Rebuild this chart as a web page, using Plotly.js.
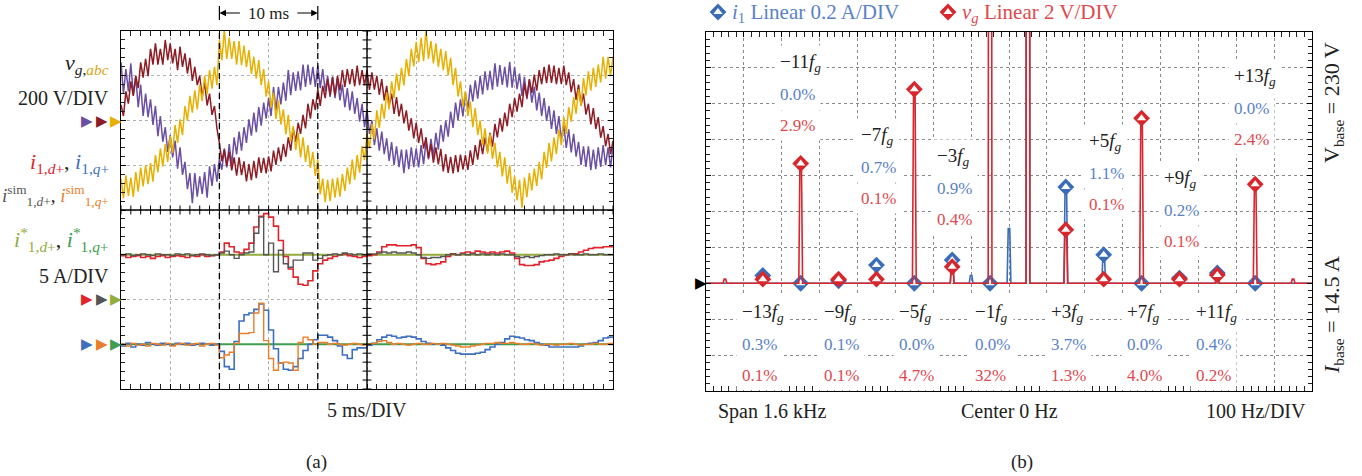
<!DOCTYPE html>
<html><head><meta charset="utf-8">
<script src="https://cdn.plot.ly/plotly-3.0.1.min.js"></script>
<style>html,body{margin:0;padding:0;background:#fff}#chart{width:1362px;height:476px}</style>
</head><body><div id="chart"></div>
<script>
// ================= Panel (a): oscilloscope capture =================
const dtV = 0.25;   // ms between voltage samples
const dtI = 0.5;    // ms between current samples
// grid voltages [V], 200 V/DIV
const vgA = [260,120,230,130, 255,115,195,60, 160,20,120,15, 95,-20,65,-70, 20,-95,-30,-140,
 -65,-165,-90,-215, -120,-243,-185,-307, -235,-370,-235,-340, -250,-328,-230,-345, -205,-292,-195,-273,
 -170,-220,-125,-210, -105,-200,-75,-152, -50,-135,-30,-100, 5,-68,35,-52, 60,-23,80,8,
 100,20,150,45, 150,72,170,88, 225,113,215,132, 220,135,250,150, 250,160,240,150,
 245,145,230,130, 200,105,195,100, 190,90,160,60, 145,45,130,30, 100,-5,75,-30,
 50,-60,0,-110, -35,-135,-50,-150, -80,-181,-97,-198, -115,-208,-130,-235, -130,-217,-120,-208,
 -125,-210,-110,-195, -95,-174,-82,-161, -55,-130,-20,-95, 0,-72,40,-33, 80,2,95,18,
 125,50,160,85, 180,98,200,117, 220,136,222,138, 255,151,248,159, 240,148,262,147,
 240,140,210,110, 195,95,180,80, 150,45,125,20, 100,-2,65,-38, 45,-60,20,-85,
 -20,-122,-40,-143, -60,-162,-95,-198, -115,-207,-115,-222, -130,-218,-120,-207, -110,-200,-120,-210, -115];
const vgB = [70,20,130,75, 175,110,200,145, 260,192,275,198, 320,250,345,250, 320,250,360,270,
 345,255,320,225, 330,240,300,210, 280,177,240,158, 200,107,170,67, 120,25,65,-35,
 -100,-182,-130,-203, -140,-223,-165,-247, -165,-244,-183,-272, -195,-267,-180,-258, -165,-234,-167,-236,
 -160,-227,-135,-198, -120,-183,-105,-162, -75,-135,-35,-95, -10,-60,25,-35, 75,8,95,47,
 140,65,155,100, 185,113,195,112, 200,135,225,150, 230,162,230,153, 245,158,225,157,
 225,137,215,138, 200,115,185,90, 155,65,120,30, 105,18,75,-13, 45,-45,10,-80,
 -10,-100,-35,-125, -75,-167,-105,-188, -120,-196,-127,-228, -150,-234,-162,-236, -155,-231,-152,-219,
 -155,-221,-133,-199, -110,-175,-85,-150, -75,-138,-55,-117, -15,-75,10,-50, 35,-25,75,15,
 100,40,120,60, 165,102,185,123, 205,133,225,162, 240,167,250,168, 245,163,235,162,
 245,158,215,127, 185,92,160,68, 120,27,75,-17, 55,-38,15,-77, -25,-115,-60,-150, -90];
const vgC = [-260,-348,-245,-337, -255,-342,-230,-318, -210,-295,-200,-285, -190,-273,-155,-232, -125,-205,-105,-185,
 -70,-145,-20,-100, 5,-65,65,0, 110,35,135,50, 160,87,200,118, 225,142,240,158,
 360,270,405,275, 370,275,355,250, 355,247,335,238, 315,208,285,187, 270,158,230,107,
 175,58,125,7, 90,-18,50,-62, 25,-93,-25,-132, -55,-165,-75,-185, -110,-212,-140,-248,
 -175,-330,-260,-365, -265,-360,-260,-345, -255,-340,-240,-315, -210,-285,-175,-265, -155,-233,-115,-177,
 -60,-125,-15,-85, 45,-33,75,8, 125,50,175,100, 210,133,235,157, 275,198,320,242,
 350,260,370,265, 405,275,355,255, 345,240,320,225, 310,202,280,158, 235,107,175,63,
 130,20,85,-30, 55,-65,0,-110, -35,-148,-60,-172, -100,-210,-140,-250, -165,-282,-200,-323,
 -250,-357,-265,-390, -255,-343,-235,-312, -215,-292,-185,-263, -140,-212,-100,-183, -75,-150,-40,-110,
 15,-60,60,-5, 105,30,140,65, 190,112,220,133, 235,150,250,170, 285,187,285,198, 285];
// currents [A], 5 A/DIV
const iD = [4.9,4.7,4.8,4.9,4.7,4.8,4.6,4.8,4.9,4.7,4.8,4.9,4.8,4.7,4.9,4.8,5.0,4.8,4.9,5.0,
 5.3,6.3,5.9,5.3,5.2,5.6,6.3,8.1,9.3,9.6, 9.2,8.2,6.6,4.8,3.4,2.5,1.7,1.6,2.1,3.2,
 4.0,4.4,4.6,4.8,5.0,5.1,4.9,4.8,4.7,4.8, 4.9,5.0,5.3,5.9,6.1,6.1,6.0,6.0,6.0,6.1,
 5.8,4.6,4.0,3.9,4.0,4.2,4.8,5.1,5.0,5.2, 5.3,5.2,5.4,5.3,5.2,5.3,5.2,5.3,5.4,5.2,
 4.6,3.9,3.8,3.8,3.9,4.2,4.3,4.4,4.6,4.8, 5.0,5.1,5.1,5.3,5.5,5.7,5.8,5.8,5.9,5.9, 5.8];
const iDsim = [5.0,5.1,4.9,5.0,5.1,5.0,4.9,5.1,5.0,5.0,4.9,5.1,5.0,5.1,4.9,5.0,5.1,5.0,4.9,5.0,
 5.2,5.4,5.0,4.6,5.0,5.2,5.3,7.4,9.2,5.0, 6.3,3.1,5.5,4.0,3.6,4.4,4.4,5.2,5.2,4.4,
 4.6,4.9,5.0,5.1,5.0,5.2,5.1,5.0,5.1,5.0, 5.1,5.1,5.2,5.3,5.2,5.3,5.2,5.2,5.3,5.2,
 5.0,4.7,4.6,4.7,4.7,4.8,5.0,5.1,5.0,5.1, 5.0,5.1,5.0,5.1,5.0,5.1,5.0,5.1,5.0,5.0,
 4.8,4.7,4.8,4.7,4.8,4.9,5.0,5.0,5.1,5.0, 5.0,5.1,5.0,5.0,5.1,5.0,5.0,5.1,5.0,5.0, 5.0];
const iQ = [-0.2,0.1,-0.3,0.0,-0.1,0.2,0.0,-0.1,0.1,0.0,-0.1,0.1,0.0,0.1,-0.1,0.0,0.1,0.0,-0.1,0.0,
 -0.8,-2.5,-2.8,0.3,2.6,3.3,3.5,3.9,4.5,3.8, 1.6,-0.5,-2.1,-2.8,-2.9,-2.5,-1.6,-0.7,0.0,0.5,
 1.0,1.0,0.8,0.4,-0.2,-1.2,-1.6,-0.6,-0.4,-0.4, -0.1,0.1,0.5,0.8,1.0,0.9,0.7,0.8,0.9,0.8,
 0.6,0.3,0.1,0.0,0.0,-0.1,-0.4,-0.7,-1.0,-1.1, -1.1,-1.1,-1.0,-0.9,-0.6,-0.3,0.0,0.2,0.6,0.9,
 0.8,0.7,0.5,0.4,0.2,0.0,-0.1,-0.3,-0.3,-0.3, -0.3,-0.3,-0.3,-0.2,0.0,0.1,0.2,0.4,0.7,0.8, 0.8];
const iQsim = [0.0,-0.2,0.1,-0.1,0.0,-0.2,0.1,0.0,-0.1,0.1,-0.2,0.0,0.1,-0.1,0.0,0.1,-0.2,0.0,0.1,-0.1,
 -1.5,-1.2,-0.9,0.1,1.2,1.2,1.3,3.5,4.6,0.4, -1.6,-2.9,-2.1,-2.0,-2.1,-2.9,0.2,0.8,0.5,0.0,
 0.2,0.2,0.0,0.1,0.0,-0.1,0.0,0.1,0.0,-0.1, 0.0,0.1,0.3,0.4,0.2,0.0,0.1,0.0,-0.1,0.0,
 0.1,0.0,0.0,0.1,0.0,0.1,0.0,-0.1,-0.2,-0.3, -0.3,-0.2,-0.1,0.0,0.1,0.1,0.2,0.1,0.1,0.2,
 0.1,0.0,0.0,0.1,0.0,-0.1,0.0,0.0,-0.1,0.0, 0.0,0.1,0.0,-0.1,0.0,0.0,0.1,0.0,0.0,0.1, 0.0];
const iDref = 5.0, iQref = 0.0;
const tSpan = [0, 50];       // ms (10 DIV x 5 ms)
const eventTimes = [10, 20]; // ms (dashed markers)

// ================= Panel (b): spectrum =================
const fg = 50;               // Hz
const Ibase = 14.5, Vbase = 230;
const hOrders = [-13,-11,-9,-7,-5,-3,-1,3,5,7,9,11,13];
const hNames  = ['−13','−11','−9','−7','−5','−3','−1','+3','+5','+7','+9','+11','+13'];
const i1Pct   = [0.3,0.0,0.1,0.7,0.0,0.9,0.0,3.7,1.1,0.0,0.2,0.4,0.0];
const vgPct   = [0.1,2.9,0.1,0.1,4.7,0.4,32,1.3,0.1,4.0,0.1,0.2,2.4];
// other visible spectral lines (not labelled)
const i1OtherOrders = [1, 0, -2];
const i1OtherPct    = [100, 2.1, 0.3];
const vgOtherOrders = [1, -15, 15];
const vgOtherPct    = [100, 0.1, 0.1];

// ----------------------------------------------------------------
const FONT = 'Liberation Serif, DejaVu Serif, serif';
const C = {purple:'#6b4fa3', darkred:'#8e1c24', gold:'#e8b000', red:'#e2232b', gray:'#555555',
  olive:'#92ad3c', blue:'#3d6fc0', orange:'#eb7e27', green:'#3f9d50',
  sBlue:'#3b6cb7', sRed:'#d8262d', tBlue:'#5a82c8', tRed:'#e0484d'};
const W = 1362, H = 476;
const px = v => v / W, py = v => 1 - v / H;

const tAxis = (arr, dt) => arr.map((_, i) => i * dt);

const traces = [];
// panel a voltages
[[vgA, C.purple], [vgB, C.darkred], [vgC, C.gold]].forEach(([v, c]) => traces.push({
  x: tAxis(v, dtV), y: v, xaxis: 'x', yaxis: 'y2', mode: 'lines', type: 'scatter',
  line: {color: c, width: 1.5}, hoverinfo: 'skip', showlegend: false}));
// panel a currents
const curTr = (y, ax, c, w) => ({x: tAxis(y, dtI), y: y, xaxis: 'x', yaxis: ax, mode: 'lines', type: 'scatter',
  line: {color: c, width: w, shape: 'hv'}, hoverinfo: 'skip', showlegend: false});
traces.push({x: tSpan, y: [iDref, iDref], xaxis: 'x', yaxis: 'y3', mode: 'lines', line: {color: C.olive, width: 1.8}, hoverinfo: 'skip', showlegend: false});
traces.push(curTr(iD, 'y3', C.red, 1.6));
traces.push(curTr(iDsim, 'y3', C.gray, 1.4));
traces.push({x: tSpan, y: [iQref, iQref], xaxis: 'x', yaxis: 'y4', mode: 'lines', line: {color: C.green, width: 1.8}, hoverinfo: 'skip', showlegend: false});
traces.push(curTr(iQ, 'y4', C.blue, 1.6));
traces.push(curTr(iQsim, 'y4', C.orange, 1.4));

// panel b spectrum lines
function spectrum(ords, pcts, base) {
  const pts = ords.map((o, i) => [o * fg, pcts[i] * base / 100]).filter(p => p[1] > 0).sort((a, b) => a[0] - b[0]);
  const xs = [-800], ys = [0];
  pts.forEach(([f, a]) => { xs.push(f - 5, f - 2, f + 2, f + 5); ys.push(0, a, a, 0); });
  xs.push(800); ys.push(0);
  return {xs, ys};
}
const sb = spectrum(hOrders.concat(i1OtherOrders), i1Pct.concat(i1OtherPct), Ibase);
const sr = spectrum(hOrders.concat(vgOtherOrders), vgPct.concat(vgOtherPct), Vbase);
traces.push({x: sb.xs, y: sb.ys, xaxis: 'x2', yaxis: 'y6', mode: 'lines', line: {color: C.sBlue, width: 1.6}, hoverinfo: 'skip', showlegend: false});
traces.push({x: sr.xs, y: sr.ys, xaxis: 'x2', yaxis: 'y7', mode: 'lines', line: {color: C.sRed, width: 1.6}, hoverinfo: 'skip', showlegend: false});
// harmonic markers (diamond with open upper part)
function markers(pcts, base, ax, c) {
  const xs = hOrders.map(o => o * fg), ys = pcts.map(p => p * base / 100);
  traces.push({x: xs, y: ys, xaxis: 'x2', yaxis: ax, mode: 'markers', marker: {symbol: 'diamond', size: 13, color: c, line: {width: 0}}, hoverinfo: 'skip', showlegend: false});
  traces.push({x: xs, y: ys, xaxis: 'x2', yaxis: ax, mode: 'markers', marker: {symbol: 'triangle-up', size: 8, color: '#fff', line: {width: 0}}, hoverinfo: 'skip', showlegend: false});
}
markers(i1Pct, Ibase, 'y6', C.sBlue);
markers(vgPct, Vbase, 'y7', C.sRed);
// legend icons (decorative, pixel-space axis)
[[718, C.sBlue], [948, C.sRed]].forEach(([x, c]) => {
  traces.push({x: [x], y: [12], xaxis: 'x3', yaxis: 'y8', mode: 'markers', marker: {symbol: 'diamond', size: 13, color: c}, hoverinfo: 'skip', showlegend: false});
  traces.push({x: [x], y: [12], xaxis: 'x3', yaxis: 'y8', mode: 'markers', marker: {symbol: 'triangle-up', size: 8, color: '#fff'}, hoverinfo: 'skip', showlegend: false});
});

// ---------------- axes ----------------
const frameAxis = (extra) => Object.assign({
  showline: true, linecolor: '#000', linewidth: 1.4, mirror: 'allticks', ticks: 'inside', ticklen: 5,
  tickcolor: '#000', tickwidth: 1, showticklabels: false, zeroline: false, fixedrange: true,
  showgrid: true, gridwidth: 1}, extra);

const layout = {
  width: W, height: H, margin: {l: 0, r: 0, t: 0, b: 0}, paper_bgcolor: '#fff', plot_bgcolor: 'rgba(0,0,0,0)',
  font: {family: FONT, size: 18, color: '#222'}, showlegend: false,
  xaxis: frameAxis({domain: [px(121), px(613)], range: tSpan, anchor: 'y', dtick: 5, tick0: 0,
    gridcolor: '#b0b0b0', griddash: 'dot', minor: {dtick: 1, tick0: 0, ticks: 'inside', ticklen: 4, tickcolor: '#222', showgrid: false}}),
  yaxis: frameAxis({domain: [py(389), py(31)], range: [0, 8], anchor: 'x', dtick: 1, tick0: 0,
    gridcolor: '#b0b0b0', griddash: 'dot', minor: {dtick: 0.2, tick0: 0, ticks: 'inside', ticklen: 4, tickcolor: '#222', showgrid: false}}),
  yaxis2: {overlaying: 'y', anchor: 'x', range: [-1200, 400], visible: false, fixedrange: true},
  yaxis3: {overlaying: 'y', anchor: 'x', range: [-10, 30], visible: false, fixedrange: true},
  yaxis4: {overlaying: 'y', anchor: 'x', range: [-5, 35], visible: false, fixedrange: true},
  xaxis2: frameAxis({domain: [px(706), px(1312)], range: [-800, 800], anchor: 'y5', dtick: 100, tick0: 0,
    gridcolor: '#8a8a8a', griddash: 'dot', minor: {dtick: 20, tick0: 0, ticks: 'inside', ticklen: 4, tickcolor: '#222', showgrid: false}}),
  yaxis5: frameAxis({domain: [py(391), py(32)], range: [-3, 7], anchor: 'x2', dtick: 1, tick0: 0,
    gridcolor: '#8a8a8a', griddash: 'dot', minor: {dtick: 0.2, tick0: 0, ticks: 'inside', ticklen: 4, tickcolor: '#222', showgrid: false}}),
  yaxis6: {overlaying: 'y5', anchor: 'x2', range: [-0.6, 1.4], visible: false, fixedrange: true},
  yaxis7: {overlaying: 'y5', anchor: 'x2', range: [-6, 14], visible: false, fixedrange: true},
  xaxis3: {domain: [0, 1], range: [0, W], anchor: 'y8', visible: false, fixedrange: true},
  yaxis8: {domain: [0, 1], range: [H, 0], anchor: 'x3', visible: false, fixedrange: true},
  shapes: [], annotations: []
};

// panel a graticule: centre axes with cross ticks, event markers
const S = layout.shapes;
S.push({type: 'line', xref: 'x', yref: 'y', x0: 25, x1: 25, y0: 0, y1: 8, line: {color: '#000', width: 1.4}});
S.push({type: 'line', xref: 'x', yref: 'y', x0: 0, x1: 50, y0: 4, y1: 4, line: {color: '#000', width: 1.4}});
for (let t = 0; t <= 50; t += 1) S.push({type: 'line', xref: 'x', yref: 'y', x0: t, x1: t, y0: 3.9, y1: 4.1, line: {color: '#000', width: 1}});
for (let k = 0; k <= 40; k++) { const yv = k * 0.2; S.push({type: 'line', xref: 'x', yref: 'y', x0: 24.55, x1: 25.45, y0: yv, y1: yv, line: {color: '#000', width: 1}}); }
eventTimes.forEach(t => {
  S.push({type: 'line', xref: 'x', yref: 'y', x0: t, x1: t, y0: 0, y1: 8, line: {color: '#000', width: 1.3, dash: '6px,4px'}});
  S.push({type: 'line', xref: 'x', yref: 'paper', x0: t, x1: t, y0: py(20), y1: py(6), line: {color: '#000', width: 1.2}});
});

// ---------------- annotations ----------------
const A = layout.annotations;
const txt = (o) => A.push(Object.assign({showarrow: false, xref: 'paper', yref: 'paper', xanchor: 'center', yanchor: 'middle',
  font: {family: FONT, size: 19, color: '#222'}}, o));
// 10 ms marker
txt({x: 15, xref: 'x', y: py(13), text: '10 ms', font: {family: FONT, size: 17, color: '#222'}});
A.push({x: eventTimes[0], xref: 'x', y: py(13), yref: 'paper', text: '', showarrow: true, ax: 22, ay: 0, arrowhead: 2, arrowsize: 1.1, arrowwidth: 1.2, arrowcolor: '#000'});
A.push({x: eventTimes[1], xref: 'x', y: py(13), yref: 'paper', text: '', showarrow: true, ax: -22, ay: 0, arrowhead: 2, arrowsize: 1.1, arrowwidth: 1.2, arrowcolor: '#000'});
// left labels
const R = px(111);
txt({x: R, y: py(64), xanchor: 'right', text: '<i>v</i><sub><i>g</i>,<span style="color:#d9a514"><i>abc</i></span></sub>', font: {family: FONT, size: 22, color: '#222'}});
txt({x: R, y: py(98), xanchor: 'right', text: '200 V/DIV', font: {family: FONT, size: 20, color: '#222'}});
txt({x: R, y: py(163), xanchor: 'right', text: `<span style="color:${C.red}"><i>i</i><sub>1,<i>d</i>+</sub></span>, <span style="color:${C.blue}"><i>i</i><sub>1,<i>q</i>+</sub></span>`, font: {family: FONT, size: 22, color: '#222'}});
txt({x: R, y: py(195), xanchor: 'right', text: `<span style="color:${C.gray}"><i>i</i><sup>sim</sup><sub>1,<i>d</i>+</sub></span>, <span style="color:${C.orange}"><i>i</i><sup>sim</sup><sub>1,<i>q</i>+</sub></span>`, font: {family: FONT, size: 19, color: '#222'}});
txt({x: R, y: py(239), xanchor: 'right', text: `<span style="color:${C.olive}"><i>i</i><sup>*</sup><sub>1,<i>d</i>+</sub></span>, <span style="color:${C.green}"><i>i</i><sup>*</sup><sub>1,<i>q</i>+</sub></span>`, font: {family: FONT, size: 22, color: '#222'}});
txt({x: R, y: py(276), xanchor: 'right', text: '5 A/DIV', font: {family: FONT, size: 20, color: '#222'}});
// channel reference arrows
const tri = (x, y, c) => txt({x: px(x), y: py(y), text: '▶', font: {family: 'DejaVu Sans', size: 15, color: c}});
[[87, C.purple], [102, C.darkred], [116, C.gold]].forEach(([x, c]) => tri(x, 121, c));
[[87, C.red], [102, C.gray], [116, C.olive]].forEach(([x, c]) => tri(x, 299, c));
[[87, C.blue], [102, C.orange], [116, C.green]].forEach(([x, c]) => tri(x, 344, c));
tri(701, 283, '#000');
txt({x: 25, xref: 'x', y: py(410), text: '5 ms/DIV', font: {family: FONT, size: 20, color: '#222'}});
txt({x: px(316), y: py(462), text: '(a)', font: {family: FONT, size: 19, color: '#222'}});
txt({x: px(1022), y: py(462), text: '(b)', font: {family: FONT, size: 19, color: '#222'}});

// panel b texts
txt({x: px(730), y: py(13), xanchor: 'left', text: '<i>i</i><sub>1</sub> Linear 0.2 A/DIV', font: {family: FONT, size: 21, color: C.tBlue}});
txt({x: px(960), y: py(13), xanchor: 'left', text: '<i>v</i><sub><i>g</i></sub> Linear 2 V/DIV', font: {family: FONT, size: 21, color: C.tRed}});
txt({x: px(716), y: py(411), xanchor: 'left', text: 'Span 1.6 kHz', font: {family: FONT, size: 20, color: '#222'}});
txt({x: 0, xref: 'x2', y: py(411), text: 'Center 0 Hz', font: {family: FONT, size: 20, color: '#222'}});
txt({x: px(1308), y: py(411), xanchor: 'right', text: '100 Hz/DIV', font: {family: FONT, size: 20, color: '#222'}});
txt({x: px(1333), y: py(103), textangle: -90, text: 'V<sub>base</sub> = 230 V', font: {family: FONT, size: 22, color: '#222'}});
txt({x: px(1333), y: py(315), textangle: -90, text: '<i>I</i><sub>base</sub> = 14.5 A', font: {family: FONT, size: 22, color: '#222'}});

// harmonic label blocks (position of each block in DIV units)
const labelTop = [-0.84, 6.13, -0.84, 4.09, -0.84, 3.51, -0.84, -0.84, 3.93, -0.84, 2.9, -0.84, 5.74];
const fmt = v => (v >= 10 ? v.toFixed(0) : v.toFixed(1)) + '%';
hOrders.forEach((o, i) => {
  const sh = hNames[i].length > 2 ? -27 : -21;
  const base = {x: o * fg, xref: 'x2', yref: 'y5', xanchor: 'left', yanchor: 'middle', xshift: sh, showarrow: false, bgcolor: '#fff', borderpad: 5};
  A.push(Object.assign({}, base, {y: labelTop[i], text: `${hNames[i]}<i>f</i><sub><i>g</i></sub>`, font: {family: FONT, size: 19, color: '#222'}}));
  A.push(Object.assign({}, base, {y: labelTop[i] - 0.87, text: fmt(i1Pct[i]), font: {family: FONT, size: 17, color: C.tBlue}}));
  A.push(Object.assign({}, base, {y: labelTop[i] - 1.74, text: fmt(vgPct[i]), font: {family: FONT, size: 17, color: C.tRed}}));
});

Plotly.newPlot('chart', traces, layout, {displayModeBar: false, staticPlot: true});
</script></body></html>
